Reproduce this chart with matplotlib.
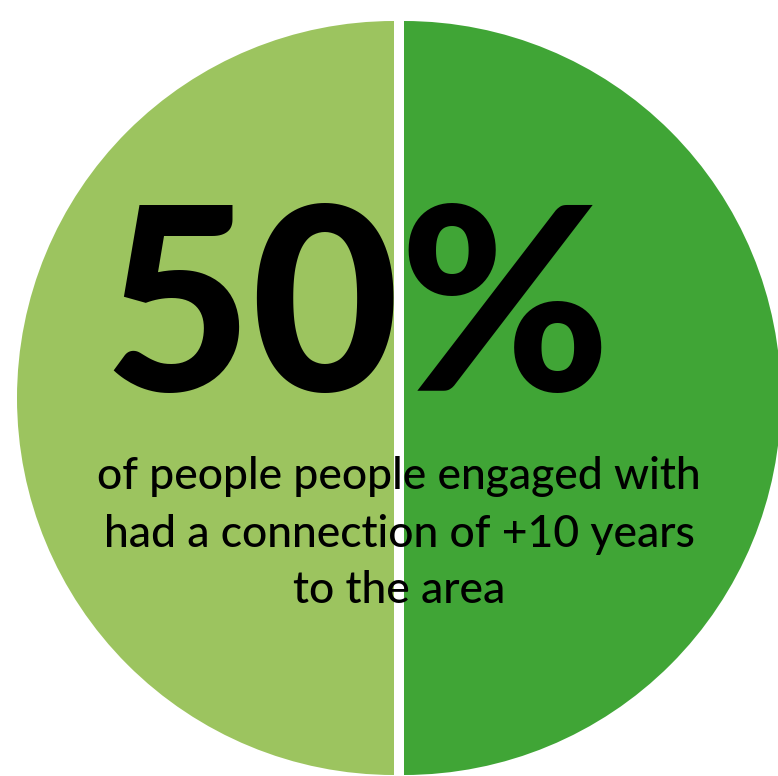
import matplotlib
matplotlib.use("Agg")
import matplotlib.pyplot as plt

# Data
labels = ["Less than 10 years", "+10 years"]
values = [50, 50]
colors = ["#9CC45F", "#40A536"]
headline = "50%"
caption_lines = ["of people people engaged with",
                 "had a connection of +10 years",
                 "to the area"]

W, H = 778, 776
fig = plt.figure(figsize=(W / 100, H / 100), dpi=100)
ax = fig.add_axes([0, 0, 1, 1])

R = 377
gap = 5
ax.pie(values, colors=colors, startangle=90, counterclock=True,
       center=(399, H - 398), radius=R, explode=[gap] * len(values),
       frame=True, wedgeprops=dict(linewidth=0))
ax.set_xlim(0, W)
ax.set_ylim(0, H)
ax.set_aspect("equal")
ax.axis("off")

ax.text(357, H - 391, headline, ha="center", va="baseline",
        fontsize=184, fontweight="black", family=["Lato", "DejaVu Sans"],
        color="black")

baselines = [489, 547, 603]
for line, yb in zip(caption_lines, baselines):
    ax.text(399, H - yb, line, ha="center", va="baseline",
            fontsize=32, fontweight="medium", family=["Lato", "DejaVu Sans"],
            color="black")

fig.savefig("out.png", dpi=100)
